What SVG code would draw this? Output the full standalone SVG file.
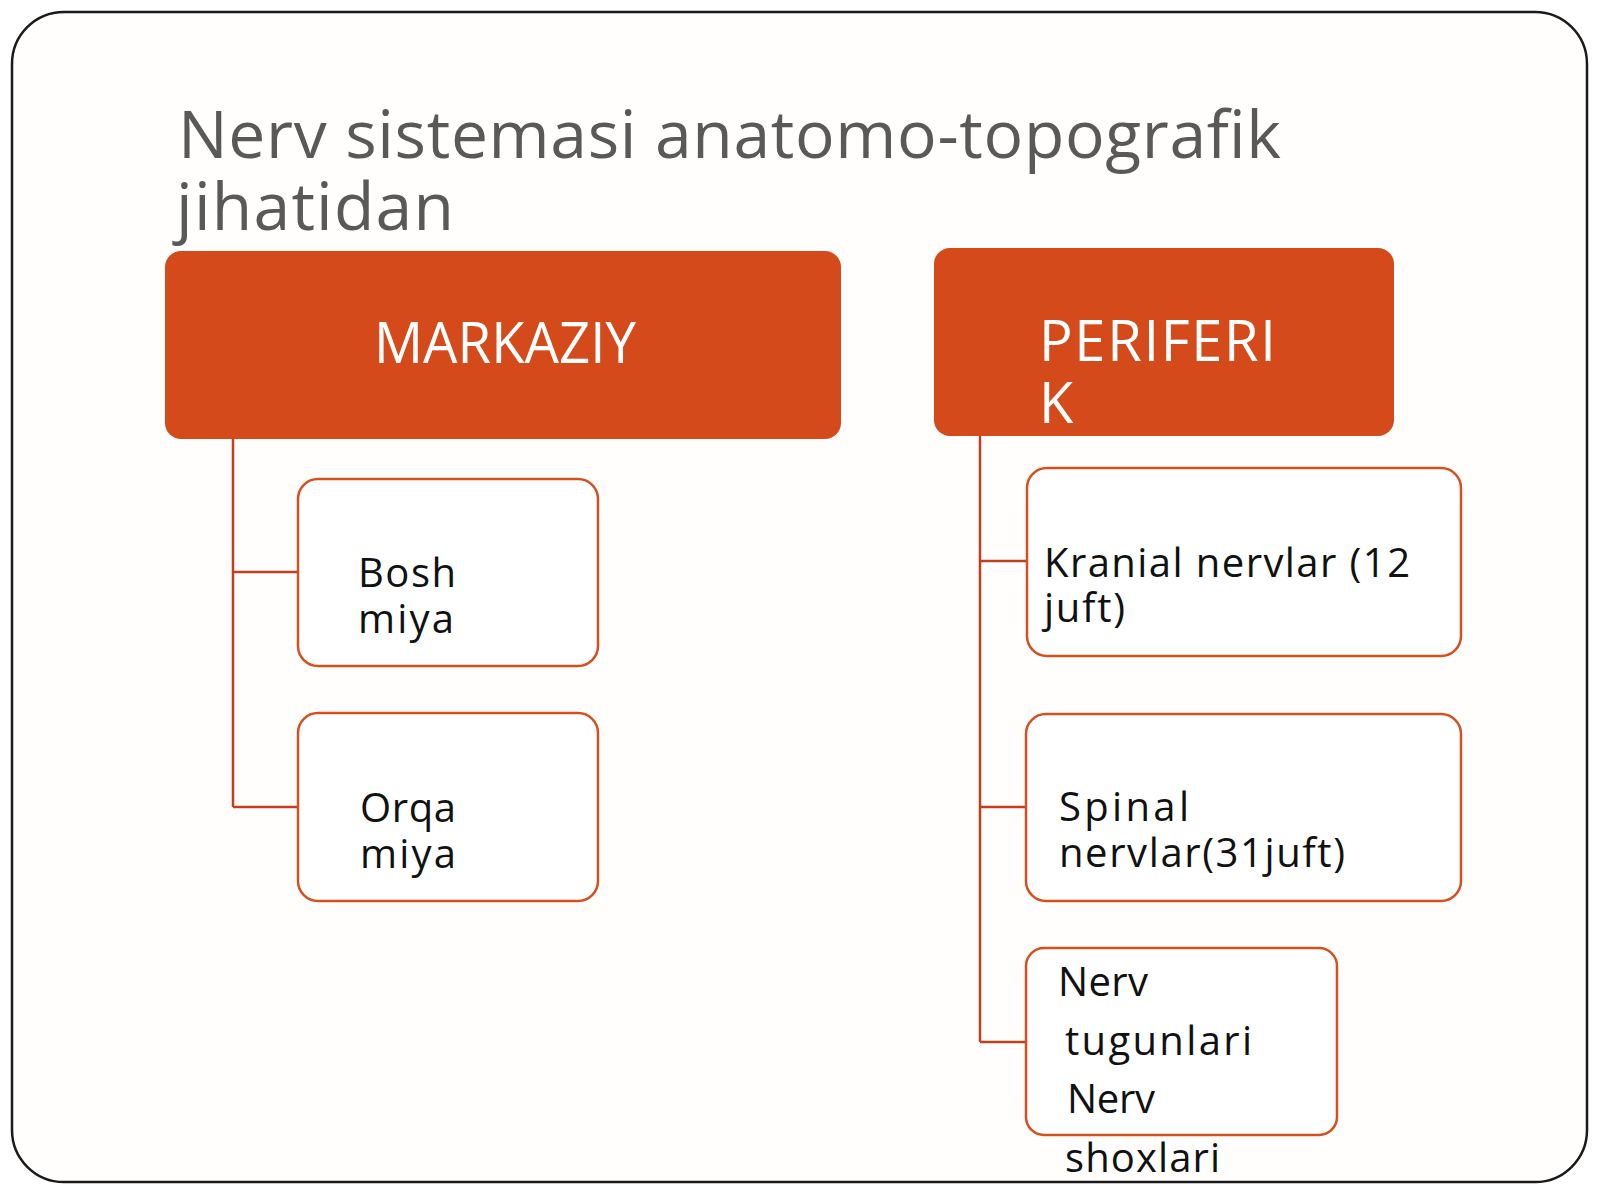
<svg xmlns="http://www.w3.org/2000/svg" width="1600" height="1199" viewBox="0 0 1600 1199">
<style>
.title{font-family:"Open Sans","Noto Sans",sans-serif;font-size:66px;fill:#595959}
.head{font-family:"Open Sans","Noto Sans",sans-serif;font-size:56px;fill:#ffffff}
.lbl{font-family:"Open Sans","Noto Sans",sans-serif;font-size:40px;fill:#111111}
.hbox{fill:#D44A1A}
.cbox{fill:#ffffff;stroke:#D4501E;stroke-width:2.5}
.conn{fill:none;stroke:#C0401E;stroke-width:2.5}
</style>
<rect x="0" y="0" width="1600" height="1199" fill="#ffffff"/>
<rect x="12" y="12" width="1575" height="1170" rx="52" ry="52" fill="#fffefc" stroke="#1a1a1a" stroke-width="2.5"/>
<g id="title">
<text class="title" x="178" y="158" textLength="1103" lengthAdjust="spacing">Nerv sistemasi anatomo-topografik</text>
<text class="title" x="176" y="230" textLength="278" lengthAdjust="spacing">jihatidan</text>
</g>
<g id="connectors">
<path class="conn" d="M233 439 V807 M233 572 H298 M233 807 H298"/>
<path class="conn" d="M980 436 V1042 M980 561 H1027 M980 807 H1026 M980 1042 H1026"/>
</g>
<g id="markaziy">
<rect class="hbox" x="165" y="251" width="676" height="188" rx="16" ry="16"/>
<text class="head" x="374" y="363" textLength="262" lengthAdjust="spacingAndGlyphs">MARKAZIY</text>
</g>
<g id="periferik">
<rect class="hbox" x="934" y="248" width="460" height="188" rx="16" ry="16"/>
<text class="head" x="1039" y="361" textLength="237" lengthAdjust="spacing">PERIFERI</text>
<text class="head" x="1039" y="423">K</text>
</g>
<g id="bosh-miya">
<rect class="cbox" x="298" y="479" width="300" height="187" rx="20" ry="20"/>
<text class="lbl" x="358" y="587" textLength="98" lengthAdjust="spacing">Bosh</text>
<text class="lbl" x="358" y="633" textLength="96" lengthAdjust="spacing">miya</text>
</g>
<g id="orqa-miya">
<rect class="cbox" x="298" y="713" width="300" height="188" rx="20" ry="20"/>
<text class="lbl" x="360" y="822" textLength="96" lengthAdjust="spacing">Orqa</text>
<text class="lbl" x="360" y="868" textLength="96" lengthAdjust="spacing">miya</text>
</g>
<g id="kranial">
<rect class="cbox" x="1027" y="468" width="434" height="188" rx="20" ry="20"/>
<text class="lbl" x="1044" y="577" textLength="366" lengthAdjust="spacing">Kranial nervlar (12</text>
<text class="lbl" x="1044" y="622" textLength="81" lengthAdjust="spacing">juft)</text>
</g>
<g id="spinal">
<rect class="cbox" x="1026" y="714" width="435" height="187" rx="20" ry="20"/>
<text class="lbl" x="1059" y="821" textLength="130" lengthAdjust="spacing">Spinal</text>
<text class="lbl" x="1059" y="867" textLength="286" lengthAdjust="spacing">nervlar(31juft)</text>
</g>
<g id="nerv">
<rect class="cbox" x="1026" y="948" width="311" height="187" rx="18" ry="18"/>
<text class="lbl" x="1058" y="996" textLength="90" lengthAdjust="spacing">Nerv</text>
<text class="lbl" x="1065" y="1055" textLength="187" lengthAdjust="spacing">tugunlari</text>
<text class="lbl" x="1067" y="1113" textLength="88" lengthAdjust="spacing">Nerv</text>
<text class="lbl" x="1065" y="1172" textLength="155" lengthAdjust="spacing">shoxlari</text>
</g>
</svg>
